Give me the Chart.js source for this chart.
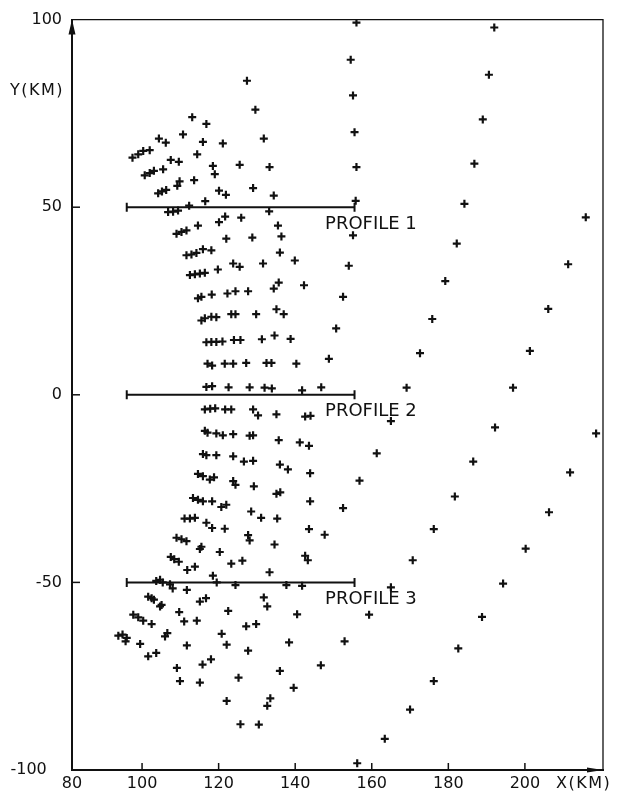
<!DOCTYPE html>
<html><head><meta charset="utf-8">
<script src="https://cdn.jsdelivr.net/npm/chart.js@4.4.1/dist/chart.umd.min.js"></script>
<style>html,body{margin:0;padding:0;background:#fff;}canvas{display:block;}</style>
</head><body>
<canvas id="c" width="618" height="802"></canvas>
<script>
const xTickValues = [80, 100, 120, 140, 160, 180, 200];
const xTickLabels = ['80', '100', '120', '140', '160', '180', '200'];
const yTickValues = [-100, -50, 0, 50, 100];
const yTickLabels = ['-100', '-50', '0', '50', '100'];
const xRange = [81.7, 220.4];
const yRange = [-100, 100];
const profileNames = ['PROFILE 1', 'PROFILE 2', 'PROFILE 3'];
const profileY = [50, 0, -50];
const profileXExtent = [96, 155.5];
const profileLabelX = 147.8;

const northPoints = [
 [113.1,74.0],[116.8,72.2],[110.7,69.4],[104.4,68.3],[106.2,67.2],[115.9,67.4],[121.1,67.0],
 [97.5,63.2],[99.0,64.1],[100.3,65.0],[102.0,65.2],[114.4,64.1],[107.5,62.6],[109.6,62.1],
 [118.5,61.0],[119.0,58.8],[105.5,60.1],[100.7,58.5],[102.0,59.1],[103.1,59.7],[113.6,57.2],
 [109.8,56.9],[109.2,55.7],[104.2,53.7],[105.2,54.2],[106.3,54.6],[120.1,54.4],[121.9,53.3],
 [116.5,51.6],[112.3,50.4],[106.8,48.7],[108.1,48.8],[109.4,49.1],[121.7,47.5],[120.1,46.0],
 [114.6,45.1],[109.0,42.9],[110.3,43.4],[111.6,43.8],[122.0,41.6],
 [127.4,83.7],[129.6,76.0],[131.8,68.3],[125.5,61.3],[133.3,60.7],[129.0,55.1],[134.4,53.1],
 [125.9,47.2],[133.2,48.9],[135.5,45.1],[136.4,42.2],[128.8,41.9],
 [156.0,99.2],[154.5,89.3],[155.1,79.8],[155.5,70.0],[156.0,60.7],[155.8,51.7],[155.1,42.5]
];
const centralPoints = [
 [111.6,37.2],[112.9,37.4],[114.2,37.8],[115.9,38.8],[118.1,38.5],
 [112.5,31.9],[113.8,32.1],[115.1,32.3],[116.4,32.5],[119.8,33.4],[122.3,27.0],
 [114.6,25.7],[115.5,26.1],[118.2,26.7],
 [115.5,19.8],[116.4,20.4],[118.1,20.8],[119.4,20.7],
 [116.8,14.0],[118.1,14.1],[119.4,14.1],[121.0,14.2],
 [117.1,8.3],[118.3,7.8],[121.6,8.3],
 [116.8,2.1],[118.3,2.3],[122.6,2.0],
 [116.4,-3.9],[117.8,-3.7],[119.1,-3.6],[121.7,-3.9],[123.3,-3.9],
 [136.0,37.9],[123.8,35.0],[125.5,34.1],[131.6,35.0],[139.9,35.8],[154.0,34.4],
 [124.4,27.6],[127.7,27.6],[134.4,28.3],[135.7,29.9],[142.3,29.2],[152.5,26.1],
 [123.3,21.5],[124.4,21.5],[129.8,21.5],[135.1,22.8],[137.0,21.5],[150.7,17.7],
 [124.0,14.6],[125.7,14.6],[131.3,14.8],[134.6,15.8],[138.8,14.9],
 [123.8,8.3],[127.2,8.5],[132.5,8.5],[133.8,8.5],[140.3,8.3],[148.8,9.6],
 [128.1,2.0],[132.0,1.9],[133.9,1.7],[141.8,1.2],[146.8,2.0],
 [129.0,-3.9],[130.3,-5.5],[135.1,-5.2],[142.6,-5.8],[144.0,-5.6],
 [116.4,-9.6],[117.1,-10.1],[119.4,-10.3],[121.1,-10.8],[123.8,-10.5],[128.1,-10.9],[129.0,-10.8],[135.7,-12.1],[141.2,-12.7],[143.6,-13.6],
 [115.9,-15.8],[116.8,-16.1],[119.4,-16.1],[123.8,-16.4],[126.6,-17.8],[129.0,-17.6],[136.0,-18.6],[138.1,-19.9],[143.9,-20.9],[156.8,-22.9],
 [114.6,-21.1],[115.9,-21.7],[117.7,-22.6],[118.8,-22.0],[123.8,-23.0],[124.4,-24.0],[129.2,-24.4],[135.1,-26.4],[136.1,-26.0],[143.9,-28.4],[152.5,-30.2],
 [113.3,-27.5],[114.6,-28.0],[115.9,-28.4],[118.3,-28.4],[120.7,-29.9],[122.0,-29.3],[128.5,-31.1],[131.1,-32.8],[135.3,-33.0],[143.6,-35.8],[147.7,-37.3],
 [111.1,-33.0],[112.5,-33.0],[113.8,-32.8],[116.8,-34.1],[118.3,-35.5],[121.6,-35.7],[127.7,-37.4],[128.1,-38.8],[134.6,-39.9],[142.6,-42.9],[143.3,-44.1],
 [109.0,-38.1],[110.3,-38.5],[111.6,-39.0],[115.5,-40.5],[115.1,-41.1],[120.3,-41.9],[123.3,-45.0],[126.2,-44.2],[133.3,-47.3],
 [107.5,-43.2],[108.4,-43.8],[109.6,-44.5],[113.8,-45.8],[111.8,-46.7],[118.5,-48.2],[119.5,-50.0]
];
const southPoints = [
 [103.7,-49.6],[104.7,-49.3],[105.4,-50.0],[107.3,-50.5],[108.0,-51.6],[111.7,-52.0],
 [101.6,-53.8],[102.5,-54.2],[103.1,-54.6],[105.1,-56.0],[104.7,-56.4],[115.1,-55.1],[116.7,-54.2],[122.5,-57.6],
 [97.7,-58.6],[99.0,-59.3],[100.3,-60.2],[102.5,-61.1],[109.7,-57.9],[111.0,-60.4],[114.3,-60.2],
 [93.8,-64.2],[94.9,-63.9],[95.7,-65.7],[96.0,-64.8],[106.0,-64.4],[106.6,-63.5],[99.5,-66.4],[111.7,-66.8],[120.8,-63.7],[122.1,-66.6],
 [101.6,-69.7],[103.7,-68.8],[109.1,-72.8],[115.8,-71.9],[118.0,-70.5],[109.9,-76.3],[115.1,-76.7],[122.1,-81.6],
 [124.4,-50.7],[137.7,-50.7],[141.8,-50.9],[131.8,-54.0],[132.7,-56.4],[140.5,-58.5],[127.2,-61.7],[129.8,-61.1],
 [138.4,-66.0],[152.9,-65.7],[127.7,-68.2],[146.7,-72.1],[136.0,-73.6],[125.2,-75.4],[139.6,-78.1],[133.5,-80.9],[132.7,-82.9],
 [125.7,-87.8],[130.5,-87.9],[156.2,-98.2]
];
const eastPoints = [
 [192.0,97.9],[190.6,85.3],[189.0,73.4],[186.8,61.6],[184.2,50.9],[182.2,40.3],[179.2,30.3],[175.8,20.2],[172.6,11.1],[169.1,1.9],
 [215.9,47.3],[211.3,34.8],[206.1,22.9],[201.3,11.7],[196.9,1.9],
 [165.0,-7.0],[192.2,-8.7],[218.6,-10.3],[161.3,-15.6],[186.5,-17.8],[211.8,-20.7],[181.7,-27.1],[206.3,-31.3],
 [176.2,-35.8],[200.2,-41.0],[170.7,-44.1],[194.3,-50.3],[165.0,-51.3],[159.3,-58.6],[188.8,-59.2],
 [182.6,-67.6],[176.2,-76.3],[170.0,-83.9],[163.4,-91.7]
];

const INK = '#111';
const toXY = arr => arr.map(([x, y]) => ({x, y}));
const markerStyle = {
  type: 'scatter', pointStyle: 'cross', pointRadius: 4, pointBorderWidth: 2.2,
  borderColor: INK, backgroundColor: INK, pointHoverRadius: 4
};
const datasets = [
  Object.assign({label: 'north', data: toXY(northPoints)}, markerStyle),
  Object.assign({label: 'central', data: toXY(centralPoints)}, markerStyle),
  Object.assign({label: 'south', data: toXY(southPoints)}, markerStyle),
  Object.assign({label: 'east', data: toXY(eastPoints)}, markerStyle)
];
profileY.forEach((py, i) => {
  datasets.push({
    type: 'line', label: profileNames[i],
    data: profileXExtent.map(px => ({x: px, y: py})),
    borderColor: INK, borderWidth: 2, showLine: true, fill: false,
    pointStyle: 'line', rotation: 90, pointRadius: 4.5, pointBorderWidth: 2,
    pointBorderColor: INK, pointBackgroundColor: INK
  });
});

const decor = {
  id: 'decor',
  afterDraw(chart) {
    const {ctx, chartArea: a, scales: {x, y}} = chart;
    ctx.save();
    ctx.strokeStyle = INK; ctx.fillStyle = INK;
    ctx.lineWidth = 1.3;
    ctx.beginPath();
    ctx.moveTo(a.left, a.top); ctx.lineTo(a.right, a.top); ctx.lineTo(a.right, a.bottom);
    ctx.stroke();
    ctx.lineWidth = 1.5;
    x.ticks.forEach(t => {
      const px = x.getPixelForValue(t.value);
      if (px > a.left + 3) { ctx.beginPath(); ctx.moveTo(px, a.bottom); ctx.lineTo(px, a.bottom - 7); ctx.stroke(); }
    });
    y.ticks.forEach(t => {
      const py = y.getPixelForValue(t.value);
      if (py > a.top + 3 && py < a.bottom - 3) { ctx.beginPath(); ctx.moveTo(a.left, py); ctx.lineTo(a.left + 8, py); ctx.stroke(); }
    });
    ctx.beginPath(); ctx.moveTo(a.left, a.top); ctx.lineTo(a.left - 3.5, a.top + 15); ctx.lineTo(a.left + 3.5, a.top + 15); ctx.closePath(); ctx.fill();
    ctx.beginPath(); ctx.moveTo(a.right, a.bottom); ctx.lineTo(a.right - 16, a.bottom - 2.5); ctx.lineTo(a.right - 16, a.bottom + 2.5); ctx.closePath(); ctx.fill();
    ctx.font = '16px "DejaVu Sans"';
    ctx.textBaseline = 'middle'; ctx.textAlign = 'left';
    if ('letterSpacing' in ctx) ctx.letterSpacing = '1.5px';
    ctx.fillText('Y(KM)', 10, 91);
    ctx.fillText('X(KM)', 556, 784);
    if ('letterSpacing' in ctx) ctx.letterSpacing = '0px';
    ctx.font = '18px "DejaVu Sans"';
    profileNames.forEach((n, i) => {
      ctx.fillText(n, x.getPixelForValue(profileLabelX), y.getPixelForValue(profileY[i]) + 17);
    });
    ctx.restore();
  }
};

new Chart(document.getElementById('c'), {
  data: {datasets},
  options: {
    responsive: false, animation: false, devicePixelRatio: 1,
    layout: {padding: {top: 15, right: 15, left: 0, bottom: 0}},
    plugins: {legend: {display: false}, tooltip: {enabled: false}},
    scales: {
      x: {
        type: 'linear', min: xRange[0], max: xRange[1],
        afterBuildTicks: s => { s.ticks = xTickValues.map(v => ({value: Math.max(v, xRange[0])})); },
        ticks: {callback: (v, i) => xTickLabels[i], color: INK, font: {family: 'DejaVu Sans', size: 16}, padding: 4, maxRotation: 0, autoSkip: false},
        grid: {display: false, drawTicks: false},
        border: {display: true, width: 2, color: INK},
        afterFit: s => { s.height = 32; }
      },
      y: {
        type: 'linear', min: yRange[0], max: yRange[1],
        afterBuildTicks: s => { s.ticks = yTickValues.map(v => ({value: v})); },
        ticks: {callback: (v, i) => (i === 0 ? yTickLabels[i] + '   ' : yTickLabels[i]), color: INK, font: {family: 'DejaVu Sans', size: 16}, padding: 10, autoSkip: false},
        grid: {display: false, drawTicks: false},
        border: {display: true, width: 2, color: INK},
        afterFit: s => { s.width = 72; }
      }
    }
  },
  plugins: [decor]
});
</script>
</body></html>
